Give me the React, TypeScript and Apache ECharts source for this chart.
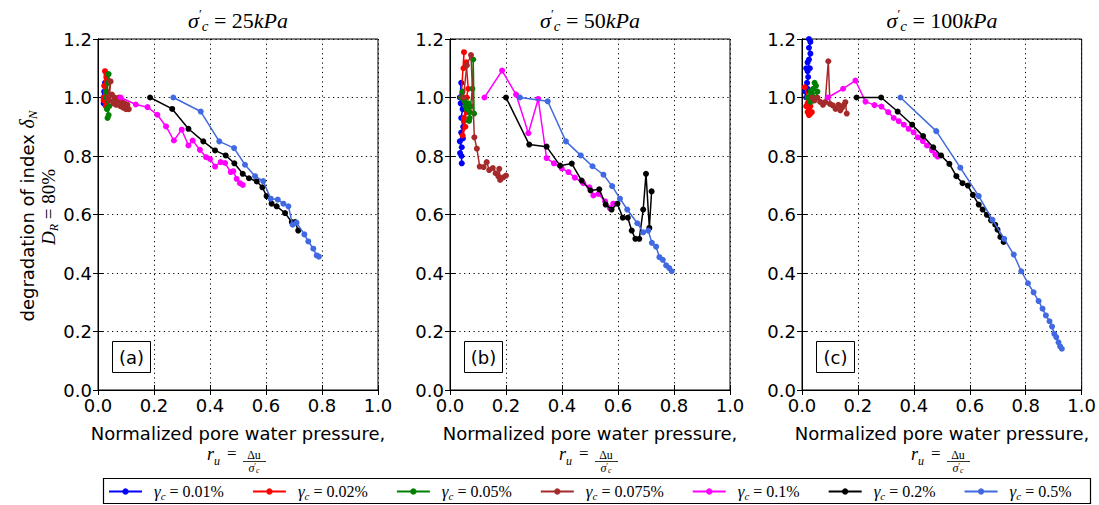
import React, { useEffect, useRef } from "react";
import * as echarts from "echarts";

// ---------- data ----------
const gammaNames = ["0.01%", "0.02%", "0.05%", "0.075%", "0.1%", "0.2%", "0.5%"];
const gammaColors = ["#0000ff", "#ff0000", "#008000", "#a52a2a", "#ff00ff", "#000000", "#4169e1"];
const panelTitles = ["25", "50", "100"];
const panelLetters = ["(a)", "(b)", "(c)"];
const xTickValues = [0, 1]; // min / max of r_u
const yTickValues = [0, 1.2]; // min / max of delta_N

// Panel (a) sigma'c = 25 kPa
const a001 = [[0.02, 1.0], [0.025, 1.05], [0.03, 1.07], [0.022, 1.02], [0.028, 0.99], [0.02, 0.98], [0.025, 1.01]];
const a002 = [[0.02, 1.0], [0.025, 1.09], [0.03, 1.08], [0.022, 1.04], [0.03, 1.02], [0.02, 0.99], [0.028, 0.97], [0.025, 1.0], [0.035, 1.06], [0.03, 0.98]];
const a005 = [[0.03, 1.0], [0.038, 1.08], [0.035, 1.05], [0.03, 1.02], [0.036, 0.99], [0.032, 0.96], [0.038, 0.94], [0.034, 0.93], [0.04, 0.97], [0.035, 1.01]];
const a0075 = [[0.035, 1.0], [0.045, 1.055], [0.04, 0.99], [0.05, 1.01], [0.055, 0.98], [0.06, 1.0], [0.065, 0.975], [0.07, 0.99], [0.075, 1.0], [0.08, 0.97], [0.085, 0.985], [0.09, 0.965], [0.095, 0.98], [0.1, 0.96], [0.105, 0.975], [0.11, 0.96]];
const a01 = [[0.081, 1.0], [0.135, 0.976], [0.177, 0.967], [0.212, 0.941], [0.243, 0.901], [0.271, 0.853], [0.299, 0.89], [0.323, 0.836], [0.338, 0.853], [0.364, 0.821], [0.386, 0.796], [0.4, 0.79], [0.418, 0.764], [0.438, 0.779], [0.454, 0.776], [0.474, 0.745], [0.483, 0.748], [0.495, 0.722], [0.507, 0.707], [0.517, 0.701]];
const a02 = [[0.186, 1.0], [0.265, 0.961], [0.323, 0.893], [0.376, 0.85], [0.418, 0.819], [0.456, 0.802], [0.487, 0.775], [0.517, 0.739], [0.539, 0.724], [0.567, 0.713], [0.587, 0.693], [0.602, 0.663], [0.62, 0.637], [0.638, 0.628], [0.668, 0.605], [0.692, 0.574], [0.704, 0.574], [0.715, 0.545]];
const a05 = [[0.269, 1.0], [0.367, 0.952], [0.433, 0.85], [0.486, 0.827], [0.525, 0.77], [0.561, 0.731], [0.59, 0.714], [0.617, 0.654], [0.642, 0.651], [0.662, 0.637], [0.68, 0.628], [0.695, 0.565], [0.709, 0.572], [0.737, 0.532], [0.751, 0.508], [0.769, 0.483], [0.781, 0.46], [0.789, 0.456]];

// Panel (b) sigma'c = 50 kPa
const b001 = [[0.035, 1.0], [0.04, 1.05], [0.038, 0.98], [0.045, 0.96], [0.04, 0.93], [0.047, 0.9], [0.04, 0.88], [0.046, 0.86], [0.035, 0.85], [0.042, 0.83], [0.036, 0.81], [0.041, 0.8], [0.042, 0.775]];
const b002 = [[0.04, 1.0], [0.05, 1.155], [0.048, 1.1], [0.058, 1.12], [0.065, 1.03], [0.055, 0.98], [0.06, 0.95], [0.05, 0.92], [0.055, 0.9], [0.045, 0.87], [0.05, 0.93], [0.06, 1.0]];
const b005 = [[0.04, 1.0], [0.045, 1.02], [0.05, 0.99], [0.055, 0.97], [0.06, 0.96], [0.065, 0.98], [0.07, 0.95], [0.075, 0.97], [0.07, 0.93], [0.068, 0.92], [0.08, 1.03], [0.083, 1.13], [0.086, 0.945]];
const b0075 = [[0.048, 1.0], [0.06, 1.11], [0.075, 1.145], [0.087, 0.864], [0.096, 0.825], [0.106, 0.764], [0.12, 0.762], [0.131, 0.779], [0.14, 0.752], [0.153, 0.759], [0.163, 0.741], [0.173, 0.73], [0.176, 0.756], [0.179, 0.718], [0.19, 0.727], [0.2, 0.733]];
const b01 = [[0.123, 1.0], [0.186, 1.092], [0.236, 1.01], [0.28, 0.878], [0.315, 0.995], [0.345, 0.793], [0.371, 0.775], [0.399, 0.758], [0.423, 0.745], [0.446, 0.726], [0.476, 0.707], [0.498, 0.693], [0.512, 0.665], [0.53, 0.67], [0.554, 0.645], [0.571, 0.622], [0.583, 0.637]];
const b02 = [[0.2, 1.0], [0.283, 0.839], [0.345, 0.832], [0.393, 0.767], [0.435, 0.774], [0.47, 0.716], [0.502, 0.682], [0.533, 0.686], [0.556, 0.634], [0.577, 0.617], [0.598, 0.637], [0.617, 0.589], [0.635, 0.589], [0.649, 0.545], [0.662, 0.517], [0.676, 0.517], [0.69, 0.617], [0.7, 0.739], [0.712, 0.554], [0.72, 0.679]];
const b05 = [[0.25, 1.0], [0.349, 0.987], [0.414, 0.85], [0.467, 0.802], [0.509, 0.765], [0.548, 0.736], [0.579, 0.697], [0.607, 0.654], [0.633, 0.617], [0.669, 0.57], [0.69, 0.539], [0.708, 0.545], [0.721, 0.503], [0.736, 0.49], [0.748, 0.454], [0.76, 0.445], [0.772, 0.426], [0.783, 0.417], [0.792, 0.406]];

// Panel (c) sigma'c = 100 kPa
const c001 = [[0.015, 1.0], [0.012, 1.02], [0.02, 1.03], [0.018, 1.05], [0.022, 1.07], [0.015, 1.1], [0.02, 1.09], [0.028, 1.1], [0.02, 1.12], [0.025, 1.13], [0.03, 1.15], [0.025, 1.17], [0.03, 1.19], [0.025, 1.2]];
const c002 = [[0.01, 1.035], [0.02, 1.0], [0.015, 0.97], [0.025, 0.96], [0.02, 0.95], [0.03, 0.945], [0.025, 0.94], [0.035, 0.95], [0.03, 0.97], [0.02, 0.98]];
const c005 = [[0.02, 1.0], [0.03, 1.02], [0.04, 1.03], [0.045, 1.05], [0.05, 1.04], [0.035, 1.01], [0.055, 1.02], [0.05, 1.0], [0.04, 0.99], [0.03, 0.985]];
const c0075 = [[0.035, 1.0], [0.045, 0.99], [0.055, 1.0], [0.065, 0.985], [0.075, 0.975], [0.083, 0.984], [0.094, 1.124], [0.1, 0.978], [0.11, 0.973], [0.12, 0.961], [0.13, 0.975], [0.137, 0.956], [0.143, 0.965], [0.15, 0.975], [0.155, 0.984], [0.16, 0.945]];
const c01 = [[0.092, 1.0], [0.147, 1.03], [0.191, 1.058], [0.227, 0.986], [0.259, 0.974], [0.284, 0.969], [0.308, 0.95], [0.328, 0.93], [0.346, 0.919], [0.364, 0.907], [0.381, 0.893], [0.399, 0.881], [0.414, 0.864], [0.432, 0.851], [0.447, 0.836], [0.465, 0.819], [0.477, 0.805], [0.485, 0.798]];
const c02 = [[0.195, 1.0], [0.283, 1.0], [0.342, 0.952], [0.394, 0.907], [0.433, 0.868], [0.469, 0.83], [0.497, 0.802], [0.527, 0.773], [0.552, 0.731], [0.574, 0.707], [0.593, 0.699], [0.611, 0.667], [0.632, 0.634], [0.646, 0.617], [0.661, 0.599], [0.676, 0.58], [0.691, 0.565], [0.699, 0.548], [0.709, 0.523], [0.721, 0.506]];
const c05 = [[0.352, 1.0], [0.48, 0.885], [0.566, 0.76], [0.632, 0.663], [0.681, 0.582], [0.723, 0.517], [0.757, 0.463], [0.784, 0.406], [0.808, 0.365], [0.828, 0.334], [0.846, 0.304], [0.86, 0.278], [0.872, 0.255], [0.885, 0.235], [0.894, 0.217], [0.902, 0.192], [0.909, 0.181], [0.917, 0.163], [0.923, 0.149], [0.929, 0.141]];

const panelData = [
  [a001, a002, a005, a0075, a01, a02, a05],
  [b001, b002, b005, b0075, b01, b02, b05],
  [c001, c002, c005, c0075, c01, c02, c05],
];

// ---------- layout ----------
const GRID_LEFTS = [98, 450, 802];
const GRID_TOP = 39;
const GRID_W = 280;
const GRID_H = 351;
const SANS = "DejaVu Sans";
const SERIF = "Liberation Serif";

function buildOption() {
  const grid: any[] = [];
  const xAxis: any[] = [];
  const yAxis: any[] = [];
  const series: any[] = [];
  const graphic: any[] = [];

  const axisLine = { show: true, lineStyle: { color: "#000", width: 1 } };
  const split = { show: true, lineStyle: { color: "#000", type: [1.2, 3.5], width: 1 } };

  for (let p = 0; p < 3; p++) {
    grid.push({
      left: GRID_LEFTS[p], top: GRID_TOP, width: GRID_W, height: GRID_H,
      show: true, borderColor: "#000", borderWidth: 1, containLabel: false,
    });
    xAxis.push({
      type: "value", gridIndex: p, min: xTickValues[0], max: xTickValues[1], interval: 0.2,
      position: "bottom", axisLine, axisTick: { show: true, inside: true, length: 5, lineStyle: { color: "#000" } },
      splitLine: split,
      axisLabel: { fontFamily: SANS, fontSize: 18, color: "#000", margin: 6, formatter: (v: number) => v.toFixed(1) },
    });
    xAxis.push({
      type: "value", gridIndex: p, min: xTickValues[0], max: xTickValues[1], interval: 0.2,
      position: "top", axisLine, axisTick: { show: true, inside: true, length: 5, lineStyle: { color: "#000" } },
      splitLine: { show: false }, axisLabel: { show: false },
    });
    yAxis.push({
      type: "value", gridIndex: p, min: yTickValues[0], max: yTickValues[1], interval: 0.2,
      position: "left", axisLine, axisTick: { show: true, inside: true, length: 5, lineStyle: { color: "#000" } },
      splitLine: split,
      axisLabel: { fontFamily: SANS, fontSize: 18, color: "#000", margin: 6, formatter: (v: number) => v.toFixed(1) },
    });
    yAxis.push({
      type: "value", gridIndex: p, min: yTickValues[0], max: yTickValues[1], interval: 0.2,
      position: "right", axisLine, axisTick: { show: true, inside: true, length: 5, lineStyle: { color: "#000" } },
      splitLine: { show: false }, axisLabel: { show: false },
    });

    for (let s = 0; s < gammaNames.length; s++) {
      series.push({
        type: "line", name: gammaNames[s], xAxisIndex: p * 2, yAxisIndex: p * 2,
        data: panelData[p][s], symbol: "circle", symbolSize: 6, showSymbol: true,
        lineStyle: { color: gammaColors[s], width: 1.5 },
        itemStyle: { color: gammaColors[s] },
        emphasis: { disabled: true }, z: 2 + s,
      });
    }

    const cx = GRID_LEFTS[p] + GRID_W / 2;
    graphic.push({
      type: "text", x: cx, y: 20,
      style: {
        text: `{it|σ}{sup|′}{sub|c}{n| = ${panelTitles[p]}}{it|kPa}`,
        align: "center", verticalAlign: "middle", fill: "#000",
        rich: {
          it: { fontFamily: SERIF, fontStyle: "italic", fontSize: 22, lineHeight: 26 },
          n: { fontFamily: SERIF, fontSize: 22, lineHeight: 26 },
          sup: { fontFamily: SERIF, fontSize: 13, lineHeight: 14, verticalAlign: "top" },
          sub: { fontFamily: SERIF, fontStyle: "italic", fontSize: 15, lineHeight: 10, verticalAlign: "bottom" },
        },
      },
    });
    graphic.push({
      type: "text", x: cx, y: 433,
      style: { text: "Normalized pore water pressure,", fontFamily: SANS, fontSize: 18, fill: "#000", align: "center", verticalAlign: "middle" },
    });
    const rx = cx - 31;
    graphic.push({ type: "text", x: rx, y: 463, style: { text: "r", fontFamily: SERIF, fontStyle: "italic", fontSize: 18, fill: "#000", align: "left", verticalAlign: "bottom" } });
    graphic.push({ type: "text", x: rx + 7, y: 467, style: { text: "u", fontFamily: SERIF, fontStyle: "italic", fontSize: 12, fill: "#000", align: "left", verticalAlign: "bottom" } });
    graphic.push({ type: "text", x: rx + 20, y: 462, style: { text: "=", fontFamily: SERIF, fontSize: 17, fill: "#000", align: "left", verticalAlign: "bottom" } });
    graphic.push({ type: "text", x: cx + 16, y: 461, style: { text: "Δu", fontFamily: SERIF, fontSize: 12, fill: "#000", align: "center", verticalAlign: "bottom" } });
    graphic.push({ type: "line", shape: { x1: cx + 5, y1: 461.5, x2: cx + 28, y2: 461.5 }, style: { stroke: "#000", lineWidth: 0.8 } });
    graphic.push({
      type: "text", x: cx + 16, y: 468,
      style: {
        text: "{it|σ}{sup|′}{sub|c}", align: "center", verticalAlign: "middle", fill: "#000",
        rich: {
          it: { fontFamily: SERIF, fontStyle: "italic", fontSize: 12, lineHeight: 12 },
          sup: { fontFamily: SERIF, fontSize: 8, lineHeight: 8, verticalAlign: "top" },
          sub: { fontFamily: SERIF, fontStyle: "italic", fontSize: 8, lineHeight: 6, verticalAlign: "bottom" },
        },
      },
    });
    const bx = GRID_LEFTS[p] + 14;
    graphic.push({ type: "rect", shape: { x: bx + 0.5, y: 341.5, width: 38, height: 31 }, style: { fill: "#fff", stroke: "#000", lineWidth: 1 }, z: 100 });
    graphic.push({ type: "text", x: bx + 19.5, y: 357, z: 101, style: { text: panelLetters[p], fontFamily: SANS, fontSize: 18, fill: "#000", align: "center", verticalAlign: "middle" } });
  }

  graphic.push({
    type: "text", x: 27, y: 216, rotation: Math.PI / 2,
    style: {
      text: "{t|degradation of index }{it|δ}{sub|N}", align: "center", verticalAlign: "middle", fill: "#000",
      rich: {
        t: { fontFamily: SANS, fontSize: 18, lineHeight: 24 },
        it: { fontFamily: SERIF, fontStyle: "italic", fontSize: 20, lineHeight: 24 },
        sub: { fontFamily: SERIF, fontStyle: "italic", fontSize: 13, lineHeight: 10, verticalAlign: "bottom" },
      },
    },
  });
  graphic.push({
    type: "text", x: 48, y: 207, rotation: Math.PI / 2,
    style: {
      text: "{it|D}{sub|R}{n| = 80%}", align: "center", verticalAlign: "middle", fill: "#000",
      rich: {
        it: { fontFamily: SERIF, fontStyle: "italic", fontSize: 19, lineHeight: 24 },
        n: { fontFamily: SERIF, fontSize: 19, lineHeight: 24 },
        sub: { fontFamily: SERIF, fontStyle: "italic", fontSize: 12, lineHeight: 10, verticalAlign: "bottom" },
      },
    },
  });
  graphic.push({ type: "rect", shape: { x: 103.5, y: 478.5, width: 987, height: 25 }, style: { fill: "none", stroke: "#000", lineWidth: 1.2 }, z: 0 });

  const legend = {
    left: 103, top: 483, itemWidth: 33, itemHeight: 8, itemGap: 28, padding: [0, 5],
    data: gammaNames, selectedMode: false,
    formatter: (name: string) => `{g|γ}{s|c}{t| = ${name}}`,
    textStyle: {
      color: "#000",
      rich: {
        g: { fontFamily: SERIF, fontStyle: "italic", fontSize: 17, padding: [0, 0, 0, 7], lineHeight: 20 },
        s: { fontFamily: SERIF, fontStyle: "italic", fontSize: 11, lineHeight: 8, verticalAlign: "bottom" },
        t: { fontFamily: SERIF, fontSize: 16, lineHeight: 20 },
      },
    },
  };

  return { animation: false, backgroundColor: "#fff", grid, xAxis, yAxis, series, graphic, legend };
}

export default function App() {
  const ref = useRef<HTMLDivElement>(null);
  useEffect(() => {
    document.body.style.margin = "0";
    const chart = echarts.init(ref.current!, null, { renderer: "svg" });
    chart.setOption(buildOption() as any);
    return () => chart.dispose();
  }, []);
  return <div ref={ref} style={{ width: 1099, height: 505, position: "absolute", left: 0, top: 0 }} />;
}
